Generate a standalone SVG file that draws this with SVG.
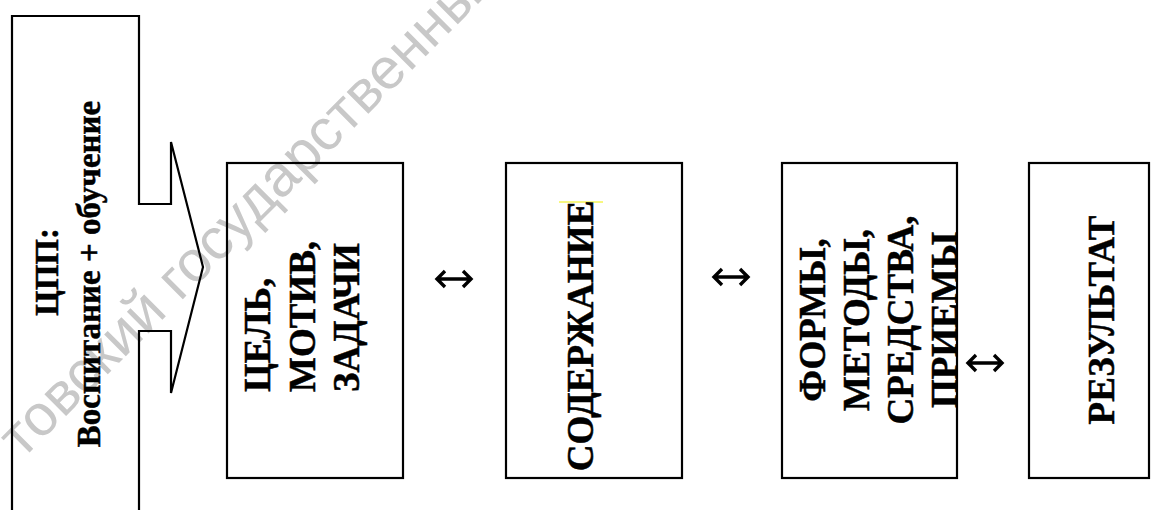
<svg xmlns="http://www.w3.org/2000/svg" width="1151" height="515" viewBox="0 0 1151 515">
  <style>
    .box { fill: none; stroke: #000; stroke-width: 2.2; }
    .lbl { font-family: "Liberation Serif", "Times New Roman", serif; font-weight: bold; fill: #000; stroke: #000; stroke-width: 0.5; }
    .big { font-size: 37px; }
    .mid { font-size: 33px; }
    .wm { font-family: "Liberation Sans", Arial, sans-serif; font-size: 58px; fill: #c8c8c8; }
    .conn { fill: none; stroke: #000; stroke-width: 3.4; stroke-linecap: butt; stroke-linejoin: miter; }
  </style>
  <rect width="1151" height="515" fill="#fff"/>
  <text class="wm" transform="translate(22,460) rotate(-45)">товский государственный</text>

  <g id="node-cpp">
    <path class="box" d="M12,510 V16 H139 V204 H171 V142 L203,267 L171,393 V331 H139 V510"/>
    <text class="lbl mid" text-anchor="middle" transform="translate(58,272) rotate(-90)">ЦПП:</text>
    <text class="lbl mid" text-anchor="middle" transform="translate(100,274) rotate(-90)">Воспитание + обучение</text>
  </g>

  <g id="node-goal">
    <rect class="box" x="227" y="163" width="176" height="315"/>
    <text class="lbl big" transform="translate(270,392) rotate(-90)">ЦЕЛЬ,</text>
    <text class="lbl big" transform="translate(315,392) rotate(-90)">МОТИВ,</text>
    <text class="lbl big" transform="translate(359,392) rotate(-90)">ЗАДАЧИ</text>
  </g>

  <g id="node-content">
    <rect class="box" x="506" y="163" width="176" height="315"/>
    <line x1="559" y1="202" x2="603" y2="202" stroke="#f0f000" stroke-width="1"/>
    <text class="lbl big" text-anchor="middle" transform="translate(593,336) rotate(-90)">СОДЕРЖАНИЕ</text>
  </g>

  <g id="node-forms">
    <rect class="box" x="782" y="163" width="175" height="315"/>
    <text class="lbl big" text-anchor="middle" transform="translate(825,320) rotate(-90)">ФОРМЫ,</text>
    <text class="lbl big" text-anchor="middle" transform="translate(869,320) rotate(-90)">МЕТОДЫ,</text>
    <text class="lbl big" text-anchor="middle" transform="translate(913,320) rotate(-90)">СРЕДСТВА,</text>
    <text class="lbl big" text-anchor="middle" transform="translate(957,320) rotate(-90)">ПРИЕМЫ</text>
  </g>

  <g id="node-result">
    <rect class="box" x="1029" y="163" width="120" height="315"/>
    <text class="lbl big" text-anchor="middle" transform="translate(1114,320) rotate(-90)">РЕЗУЛЬТАТ</text>
  </g>

  <g id="connectors">
    <path class="conn" d="M437,279 H471 M445,271 L437,279 L445,287 M463,271 L471,279 L463,287"/>
    <path class="conn" d="M714,277 H748 M722,269 L714,277 L722,285 M740,269 L748,277 L740,285"/>
    <path class="conn" d="M968,363 H1002 M976,355 L968,363 L976,371 M994,355 L1002,363 L994,371"/>
  </g>
</svg>
